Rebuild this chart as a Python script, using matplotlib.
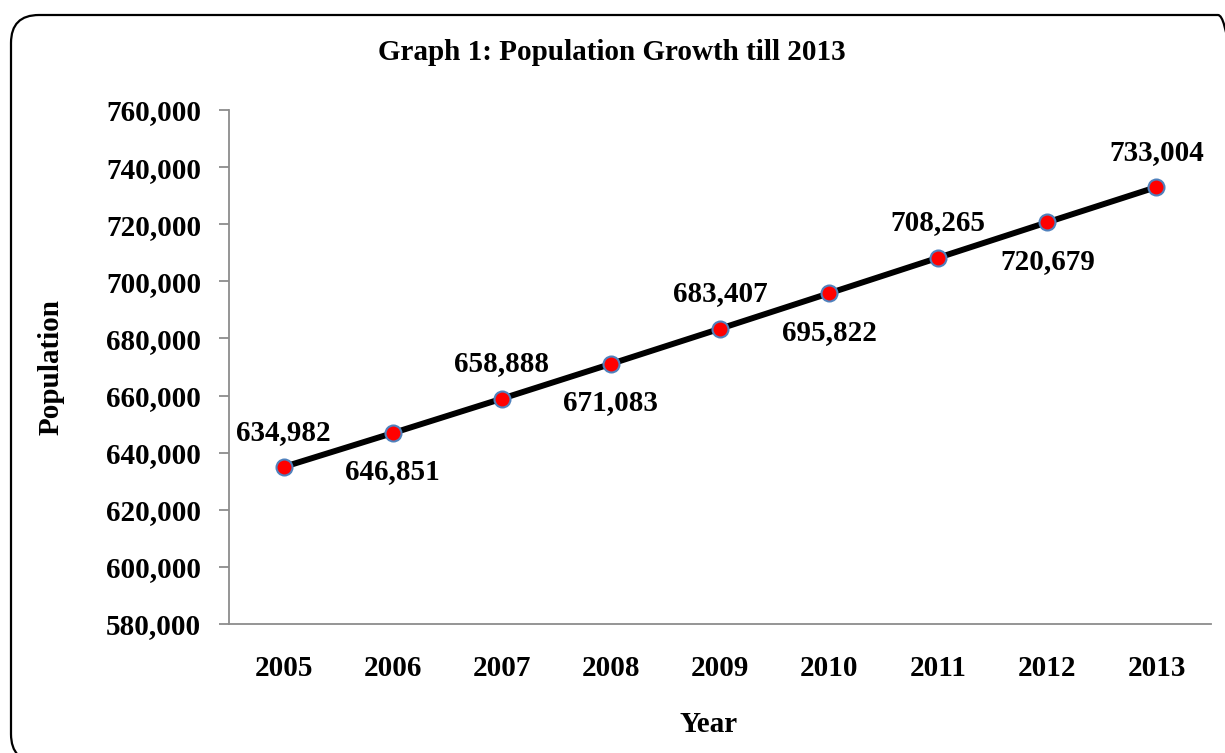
import matplotlib
matplotlib.use("Agg")
import matplotlib.pyplot as plt
from matplotlib.patches import FancyBboxPatch
from matplotlib.ticker import FuncFormatter

years = ["2005", "2006", "2007", "2008", "2009", "2010", "2011", "2012", "2013"]
population = [634982, 646851, 658888, 671083, 683407, 695822, 708265, 720679, 733004]
label_above = [True, False, True, False, True, False, True, False, True]

plt.rcParams['font.family'] = ['Liberation Serif', 'DejaVu Serif']
plt.rcParams['font.weight'] = 'bold'

W, H = 1225, 753
fig = plt.figure(figsize=(W / 100, H / 100), dpi=100)
ax = fig.add_axes([229 / W, (H - 624) / H, (1211 - 229) / W, (624 - 110) / H])

# rounded border (extends past the right and bottom edges, as in the reference)
bx0, by_top, bx1, by_bot = 11, 15, 1246, 762
border = FancyBboxPatch((bx0 / W, (H - by_bot) / H), (bx1 - bx0) / W, (by_bot - by_top) / H,
                        boxstyle=f"round,pad=0,rounding_size={28 / W}",
                        transform=fig.transFigure, fill=False, edgecolor='black',
                        linewidth=1.6, mutation_aspect=W / H, clip_on=False)
fig.patches.append(border)

x = list(range(len(years)))
ax.plot(x, population, color='black', linewidth=4.3, zorder=2)
ax.plot(x, population, linestyle='none', marker='o', markersize=11.5,
        markerfacecolor='#FF0000', markeredgecolor='#4F81BD', markeredgewidth=1.5, zorder=3)

for xi, v, up in zip(x, population, label_above):
    ax.annotate(f"{v:,}", (xi, v), xytext=(0, 25 if up else -28), textcoords='offset points',
                ha='center', va='center', fontsize=21, fontweight='bold')

ax.set_xlim(-0.5, len(years) - 0.5)
ax.set_ylim(580000, 760000)
ax.set_yticks(range(580000, 760001, 20000))
ax.yaxis.set_major_formatter(FuncFormatter(lambda v, p: f"{int(v):,}"))
ax.set_xticks(x)
ax.set_xticklabels(years)

for s in ['top', 'right']:
    ax.spines[s].set_visible(False)
for s in ['left', 'bottom']:
    ax.spines[s].set_color('#8C8C8C')
    ax.spines[s].set_linewidth(1.3)

ax.tick_params(axis='y', direction='out', length=7, width=1.3, color='#8C8C8C',
               pad=13, labelsize=21)
ax.tick_params(axis='x', length=0, pad=22, labelsize=21)
for lbl in ax.get_xticklabels() + ax.get_yticklabels():
    lbl.set_fontweight('bold')

fig.text(612 / W, 1 - 52 / H, "Graph 1: Population Growth till 2013", fontsize=21,
         fontweight='bold', ha='center', va='center')
ax.set_xlabel("Year", fontsize=21, fontweight='bold', labelpad=21)
ax.xaxis.label.set_x((709 - 229) / (1211 - 229))
ax.set_ylabel("Population", fontsize=21, fontweight='bold', labelpad=30)

fig.savefig("out.png", dpi=100)
